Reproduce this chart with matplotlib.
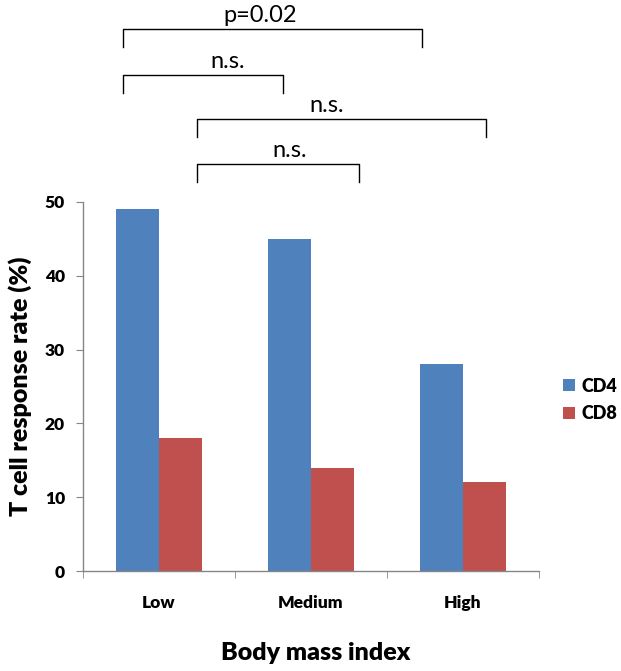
import matplotlib
matplotlib.use("Agg")
import matplotlib.pyplot as plt
import numpy as np

# data
groups = ["Low", "Medium", "High"]
cd4 = [49, 45, 28]
cd8 = [18, 14, 12]
series_names = ["CD4", "CD8"]

# significance brackets: left x, right x, line height, label, label x
bracket_x0 = [-0.237, -0.237, 0.25, 0.25]
bracket_x1 = [1.730, 0.816, 2.151, 1.316]
bracket_y = [73.4, 67.2, 61.2, 55.1]
bracket_txt = ["p=0.02", "n.s.", "n.s.", "n.s."]
bracket_txt_x = [0.664, 0.454, 1.105, 0.862]

plt.rcParams['font.family'] = ['Lato', 'DejaVu Sans']

fig = plt.figure(figsize=(6.21, 6.71), dpi=100)
ax = fig.add_axes([83/621, 1-571/671, 456/621, 369/671])

x = np.arange(len(groups))
w = 0.285
ax.bar(x - w/2, cd4, w, color="#4F81BD", label=series_names[0])
ax.bar(x + w/2, cd8, w, color="#C0504D", label=series_names[1])

ax.set_xlim(-0.5, len(groups) - 0.5)
ax.set_ylim(0, 50)
ax.set_yticks(range(0, 51, 10))
ax.set_xticks(x)
ax.set_xticklabels(groups, fontsize=12.5, fontweight='heavy')
ax.set_xticks(np.arange(-0.5, len(groups), 1), minor=True)
for lab in ax.get_yticklabels():
    lab.set_fontsize(12.5)
    lab.set_fontweight('heavy')

for s in ["top", "right"]:
    ax.spines[s].set_visible(False)
for s in ["left", "bottom"]:
    ax.spines[s].set_color("#868686")
    ax.spines[s].set_linewidth(1)
ax.tick_params(axis='y', length=5, color="#868686", pad=8)
ax.tick_params(axis='x', which='major', length=0, pad=17)
ax.tick_params(axis='x', which='minor', length=5, color="#868686")

fig.text(20/621, 1-386/671, "T cell response rate (%)", rotation=90,
         ha='center', va='center', fontsize=18, fontweight='heavy')
fig.text(316/621, 1-653/671, "Body mass index", ha='center', va='center',
         fontsize=18, fontweight='heavy')

# brackets above the plot
drop = 2.4
for x0, x1, y, t, tx in zip(bracket_x0, bracket_x1, bracket_y, bracket_txt, bracket_txt_x):
    ax.plot([x0, x0, x1, x1], [y - drop, y, y, y - drop], color="black",
            lw=1, clip_on=False)
    ax.text(tx, y + 0.4, t, ha='center', va='bottom', fontsize=17)

ax.legend(loc='center left', bbox_to_anchor=(563/621, 1-400/671),
          bbox_transform=fig.transFigure, frameon=False,
          handlelength=0.65, handleheight=0.65, handletextpad=0.35,
          labelspacing=0.6, borderpad=0, borderaxespad=0,
          prop={'weight': 'heavy', 'size': 13})

fig.savefig("out.png", dpi=100)
